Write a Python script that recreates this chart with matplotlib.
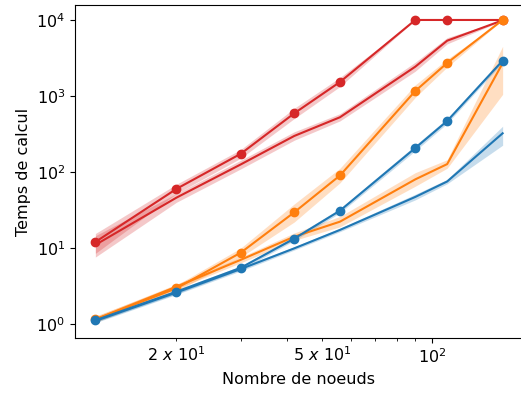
import matplotlib
matplotlib.use("Agg")
import matplotlib.pyplot as plt
import matplotlib.ticker as mticker
import numpy as np

# number of nodes
nodes = [12, 20, 30, 42, 56, 90, 110, 156]

# red (markers)
red_m = [12, 60, 174, 592, 1528, 10000, 10000, 10000]
red_m_lo = [8.5, 52, 152, 505, 1330, 10000, 10000, 10000]
red_m_hi = [15.5, 69, 198, 690, 1750, 10000, 10000, 10000]
# red (no markers)
red_l = [11, 46, 126, 298, 525, 2430, 5340, 9900]
red_l_lo = [7.6, 40, 110, 262, 470, 2120, 4850, 9800]
red_l_hi = [14.5, 52, 143, 338, 585, 2780, 5850, 10000]

# orange (markers)
org_m = [1.15, 2.95, 8.7, 29.5, 90, 1164, 2718, 10000]
org_m_lo = [1.05, 2.7, 7.6, 22, 72, 960, 2400, 10000]
org_m_hi = [1.27, 3.25, 10, 38, 112, 1400, 3050, 10000]
# orange (no markers)
org_l = [1.15, 3.1, 7.0, 14.1, 22.2, 80, 127, 2700]
org_l_lo = [1.08, 2.9, 6.4, 12.6, 19, 65, 112, 1050]
org_l_hi = [1.25, 3.35, 7.6, 15.8, 26, 98, 145, 4500]

# blue (markers)
blu_m = [1.12, 2.66, 5.5, 13.3, 31, 207, 469, 2916]
blu_m_lo = [1.06, 2.5, 5.2, 12.5, 29, 190, 435, 2750]
blu_m_hi = [1.18, 2.82, 5.8, 14.2, 33, 225, 505, 3100]
# blue (no markers)
blu_l = [1.1, 2.6, 5.3, 9.9, 17.3, 47, 75, 323]
blu_l_lo = [1.04, 2.45, 5.0, 9.4, 16.4, 43, 70, 225]
blu_l_hi = [1.16, 2.75, 5.6, 10.4, 18.2, 51, 80, 400]

red = '#d62728'
orange = '#ff7f0e'
blue = '#1f77b4'

fig = plt.figure(figsize=(5.21, 3.93), dpi=100)
ax = fig.add_axes([75 / 521, (393 - 338) / 393, (523 - 75) / 521, (338 - 5) / 393])

series = [
    (red_m, red_m_lo, red_m_hi, red, 'o'),
    (red_l, red_l_lo, red_l_hi, red, None),
    (org_m, org_m_lo, org_m_hi, orange, 'o'),
    (org_l, org_l_lo, org_l_hi, orange, None),
    (blu_m, blu_m_lo, blu_m_hi, blue, 'o'),
    (blu_l, blu_l_lo, blu_l_hi, blue, None),
]
for y, lo, hi, c, mk in series:
    ax.fill_between(nodes, lo, hi, color=c, alpha=0.25, linewidth=0)
    ax.plot(nodes, y, color=c, marker=mk, markersize=6, linewidth=1.5)

ax.set_xscale('log')
ax.set_yscale('log')
ax.set_ylim(10 ** -0.184, 10 ** 4.197)


def minor_fmt(x, pos):
    e = int(np.floor(np.log10(x) + 1e-9))
    m = round(x / 10 ** e)
    if m in (2, 5):
        return r'$%d\ x\ 10^{%d}$' % (m, e)
    return ''


ax.xaxis.set_minor_formatter(mticker.FuncFormatter(minor_fmt))
ax.yaxis.set_minor_locator(mticker.NullLocator())
ax.tick_params(which='both', labelsize=11.5)

ax.set_xlabel('Nombre de noeuds', fontsize=11.5)
ax.set_ylabel('Temps de calcul', fontsize=11.5)

fig.savefig('out.png', dpi=100)
